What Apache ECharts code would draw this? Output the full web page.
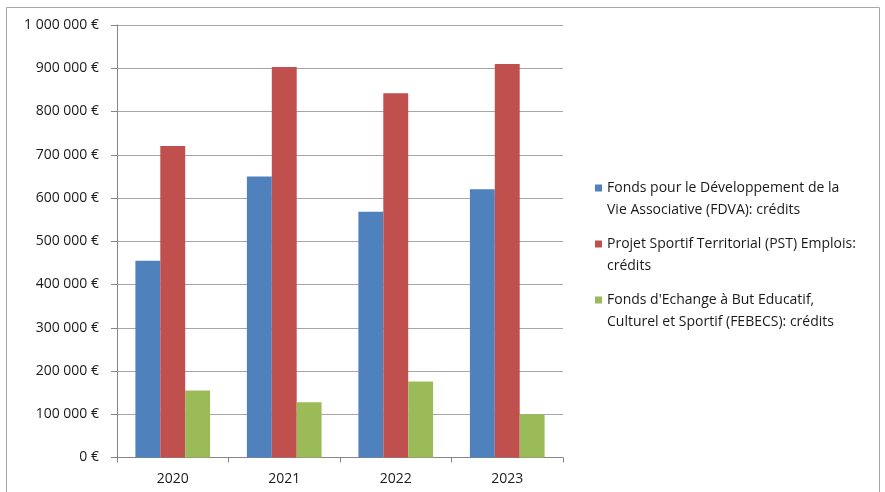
<!DOCTYPE html>
<html>
<head>
<meta charset="utf-8">
<script src="https://cdn.jsdelivr.net/npm/echarts@6/dist/echarts.min.js"></script>
<style>
  html, body { margin: 0; padding: 0; background: #fff; }
  #main { width: 885px; height: 492px; }
</style>
</head>
<body>
<div id="main"></div>
<script>
var years = ['2020', '2021', '2022', '2023'];
var fdva = [455000, 650000, 568000, 620000];
var pst = [720000, 903000, 842000, 910000];
var febecs = [155000, 128000, 176000, 100000];
var seriesNames = [
  'Fonds pour le Développement de la Vie Associative (FDVA): crédits',
  'Projet Sportif Territorial (PST) Emplois: crédits',
  "Fonds d'Echange à But Educatif, Culturel et Sportif (FEBECS): crédits"
];
var legendLines = [
  ['Fonds pour le Développement de la', 'Vie Associative (FDVA): crédits'],
  ['Projet Sportif Territorial (PST) Emplois:', 'crédits'],
  ["Fonds d'Echange à But Educatif,", 'Culturel et Sportif (FEBECS): crédits']
];
var colors = ['#4F81BD', '#C0504D', '#9BBB59'];

var font = 'Open Sans';
var chart = echarts.init(document.getElementById('main'));

function euro(v) {
  // espace comme séparateur de milliers
  return String(v).replace(/\B(?=(\d{3})+(?!\d))/g, ' ') + ' €';
}

var rich = {
  s: { width: 7 },
  t: { fontFamily: font, fontSize: 14, lineHeight: 22, color: '#1a1a1a', padding: [0, 0, 0, 5] }
};
colors.forEach(function (c, i) {
  rich['m' + i] = { width: 7, height: 7, backgroundColor: c };
});

var option = {
  animation: false,
  color: colors,
  graphic: [{
    type: 'rect',
    shape: { x: 6.5, y: 7.5, width: 873, height: 490 },
    style: { fill: 'none', stroke: '#a6a6a6', lineWidth: 1 }
  }],
  grid: { left: 117, right: 322, top: 25, bottom: 34.5 },
  legend: {
    orient: 'vertical',
    left: 590,
    top: 181,
    padding: 0,
    icon: 'none',
    itemWidth: 0,
    itemHeight: 0,
    itemGap: 20,
    selectedMode: false,
    data: seriesNames,
    formatter: function (name) {
      var i = seriesNames.indexOf(name);
      var l = legendLines[i];
      return '{m' + i + '|}{t|' + l[0] + '}\n{s|}{t|' + l[1] + '}';
    },
    textStyle: { rich: rich }
  },
  xAxis: {
    type: 'category',
    data: years,
    axisLine: { lineStyle: { color: '#868686' } },
    axisTick: { show: true, length: 5, lineStyle: { color: '#868686' } },
    axisLabel: { fontFamily: font, fontSize: 14, color: '#1a1a1a', margin: 15 }
  },
  yAxis: {
    type: 'value',
    min: 0,
    max: 1000000,
    interval: 100000,
    axisLine: { show: true, lineStyle: { color: '#868686' } },
    axisTick: { show: true, length: 6, lineStyle: { color: '#868686' } },
    splitLine: { lineStyle: { color: '#a6a6a6' } },
    axisLabel: { fontFamily: font, fontSize: 14, color: '#1a1a1a', margin: 18, formatter: euro }
  },
  series: [
    { name: seriesNames[0], type: 'bar', data: fdva, barGap: '0%', barCategoryGap: '33%' },
    { name: seriesNames[1], type: 'bar', data: pst, barGap: '0%', barCategoryGap: '33%' },
    { name: seriesNames[2], type: 'bar', data: febecs, barGap: '0%', barCategoryGap: '33%' }
  ]
};
chart.setOption(option);
</script>
</body>
</html>
